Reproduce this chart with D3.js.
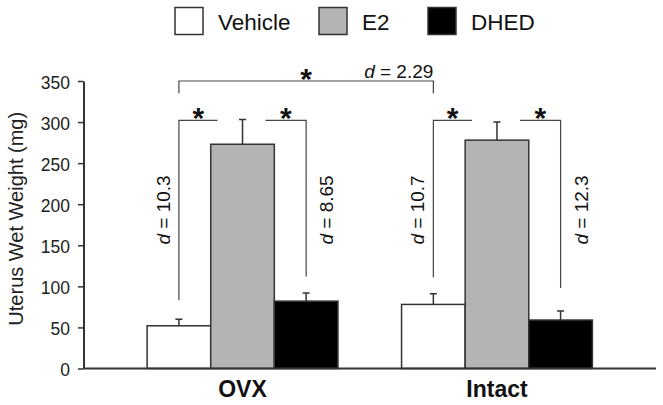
<!DOCTYPE html>
<html>
<head>
<meta charset="utf-8">
<script src="https://cdn.jsdelivr.net/npm/d3@7"></script>
<style>
  body { margin: 0; background: #fff; }
  svg { display: block; font-family: "Liberation Sans", Arial, Helvetica, sans-serif; }
</style>
</head>
<body>
<svg id="chart" width="663" height="405"></svg>
<script>
// data
const groups = ['OVX', 'Intact'];
const series = ['Vehicle', 'E2', 'DHED'];
const ovxMeans = [52, 273, 82];
const ovxErrors = [8, 30, 10];
const intactMeans = [78, 278, 59];
const intactErrors = [13, 22, 11];
const yTicks = [0, 50, 100, 150, 200, 250, 300, 350];

// pairwise comparisons (vs E2) inside each group
const pairs = [
  { group: 'OVX', bar: 'Vehicle', top: 302, drop: 83, d: '10.3' },
  { group: 'OVX', bar: 'DHED', top: 302, drop: 112, d: '8.65' },
  { group: 'Intact', bar: 'Vehicle', top: 302, drop: 111, d: '10.7' },
  { group: 'Intact', bar: 'DHED', top: 302, drop: 98, d: '12.3' }
];
// vehicle OVX vs vehicle intact
const across = { from: 'OVX', to: 'Intact', bar: 'Vehicle', top: 350, drop: 335, d: '2.29' };

const rows = groups.map((g, gi) => series.map((s, si) => ({
  group: g,
  series: s,
  mean: gi === 0 ? ovxMeans[si] : intactMeans[si],
  err: gi === 0 ? ovxErrors[si] : intactErrors[si]
})));

const fills = { Vehicle: '#ffffff', E2: '#b4b4b4', DHED: '#000000' };
const ink = '#333';

const svg = d3.select('#chart');

const x0 = d3.scaleBand().domain(groups).range([83.5, 656]).paddingInner(0.25).paddingOuter(0.25);
const x1 = d3.scaleBand().domain(series).range([0, x0.bandwidth()]);
const y = d3.scaleLinear().domain([0, 350]).range([368.5, 81]);

const barX = (g, s) => x0(g) + x1(s);
const barMid = (g, s) => x0(g) + x1(s) + x1.bandwidth() / 2;

// legend
const legendX = [175, 319, 428];
const legend = svg.append('g');
series.forEach((s, i) => {
  legend.append('rect')
    .attr('x', legendX[i]).attr('y', 7.5)
    .attr('width', 28).attr('height', 27)
    .attr('fill', fills[s]).attr('stroke', ink).attr('stroke-width', 1.5);
  legend.append('text')
    .attr('x', legendX[i] + 43).attr('y', 29.5)
    .attr('font-size', 22.5).attr('fill', '#111')
    .text(s);
});

// bars
const gGroups = svg.append('g').selectAll('g').data(rows).enter().append('g');

gGroups.selectAll('rect').data(d => d).enter().append('rect')
  .attr('x', d => barX(d.group, d.series))
  .attr('y', d => y(d.mean))
  .attr('width', x1.bandwidth())
  .attr('height', d => y(0) - y(d.mean))
  .attr('fill', d => fills[d.series])
  .attr('stroke', ink).attr('stroke-width', 1.5);

// error bars (upper only)
gGroups.selectAll('path.err').data(d => d).enter().append('path')
  .attr('class', 'err')
  .attr('fill', 'none').attr('stroke', ink).attr('stroke-width', 1.5)
  .attr('d', d => {
    const cx = barMid(d.group, d.series);
    return `M${cx},${y(d.mean)}V${y(d.mean + d.err)}M${cx - 3.5},${y(d.mean + d.err)}H${cx + 3.5}`;
  });

// axes
const yAxis = svg.append('g')
  .attr('transform', 'translate(83.5,0)')
  .call(d3.axisLeft(y).tickValues(yTicks).tickSize(5.5).tickSizeOuter(0).tickPadding(8));
yAxis.select('.domain').attr('stroke', ink).attr('stroke-width', 2);
yAxis.selectAll('.tick line').attr('stroke', ink).attr('stroke-width', 1.5);
yAxis.selectAll('.tick text')
  .attr('font-family', '"Liberation Sans", Arial, sans-serif')
  .attr('font-size', 17.5).attr('fill', '#222').attr('dy', '0.42em');

svg.append('line')
  .attr('x1', 83.5).attr('x2', 656)
  .attr('y1', y(0)).attr('y2', y(0))
  .attr('stroke', ink).attr('stroke-width', 2);

svg.selectAll('text.grp').data(groups).enter().append('text')
  .attr('class', 'grp')
  .attr('x', g => x0(g) + x0.bandwidth() / 2).attr('y', 397)
  .attr('text-anchor', 'middle')
  .attr('font-size', 23).attr('font-weight', 'bold').attr('fill', '#111')
  .text(g => g);

svg.append('text')
  .attr('transform', `translate(23,${(y(0) + y(350)) / 2 - 6}) rotate(-90)`)
  .attr('text-anchor', 'middle')
  .attr('font-size', 20).attr('fill', '#222')
  .text('Uterus Wet Weight (mg)');

// significance brackets
const notes = svg.append('g');
const bracketInk = '#444';

function star(cx, lineY) {
  notes.append('text')
    .attr('x', cx).attr('y', lineY + 8)
    .attr('text-anchor', 'middle')
    .attr('font-size', 30).attr('font-weight', 'bold').attr('fill', '#111')
    .text('*');
}

function dLabel(g, xPos, yPos, val, rotate) {
  const t = g.append('text')
    .attr('font-size', 19).attr('fill', '#111')
    .attr('text-anchor', rotate ? 'middle' : 'end');
  if (rotate) t.attr('transform', `translate(${xPos},${yPos}) rotate(-90)`);
  else t.attr('x', xPos).attr('y', yPos);
  t.append('tspan').attr('font-style', 'italic').text('d');
  t.append('tspan').text(' = ' + val);
}

pairs.forEach(p => {
  const vx = barMid(p.group, p.bar);
  const e2 = barMid(p.group, 'E2');
  const left = p.bar === 'Vehicle';
  const hx = left ? e2 - 25 : e2 + 23;
  const ty = y(p.top);
  notes.append('path')
    .attr('fill', 'none').attr('stroke', bracketInk).attr('stroke-width', 1.2)
    .attr('d', `M${vx},${y(p.drop)}V${ty}H${hx}`);
  star((vx + hx) / 2, ty);
  dLabel(notes, left ? vx - 9 : vx + 27, y(193), p.d, true);
});

{
  const ax = barMid(across.from, across.bar);
  const bx = barMid(across.to, across.bar);
  const ty = y(across.top);
  notes.append('path')
    .attr('fill', 'none').attr('stroke', bracketInk).attr('stroke-width', 1.2)
    .attr('d', `M${ax},${y(across.drop)}V${ty}H${bx}V${y(across.drop)}`);
  star((ax + bx) / 2, ty);
  dLabel(notes, bx, ty - 3, across.d, false);
}
</script>
</body>
</html>
